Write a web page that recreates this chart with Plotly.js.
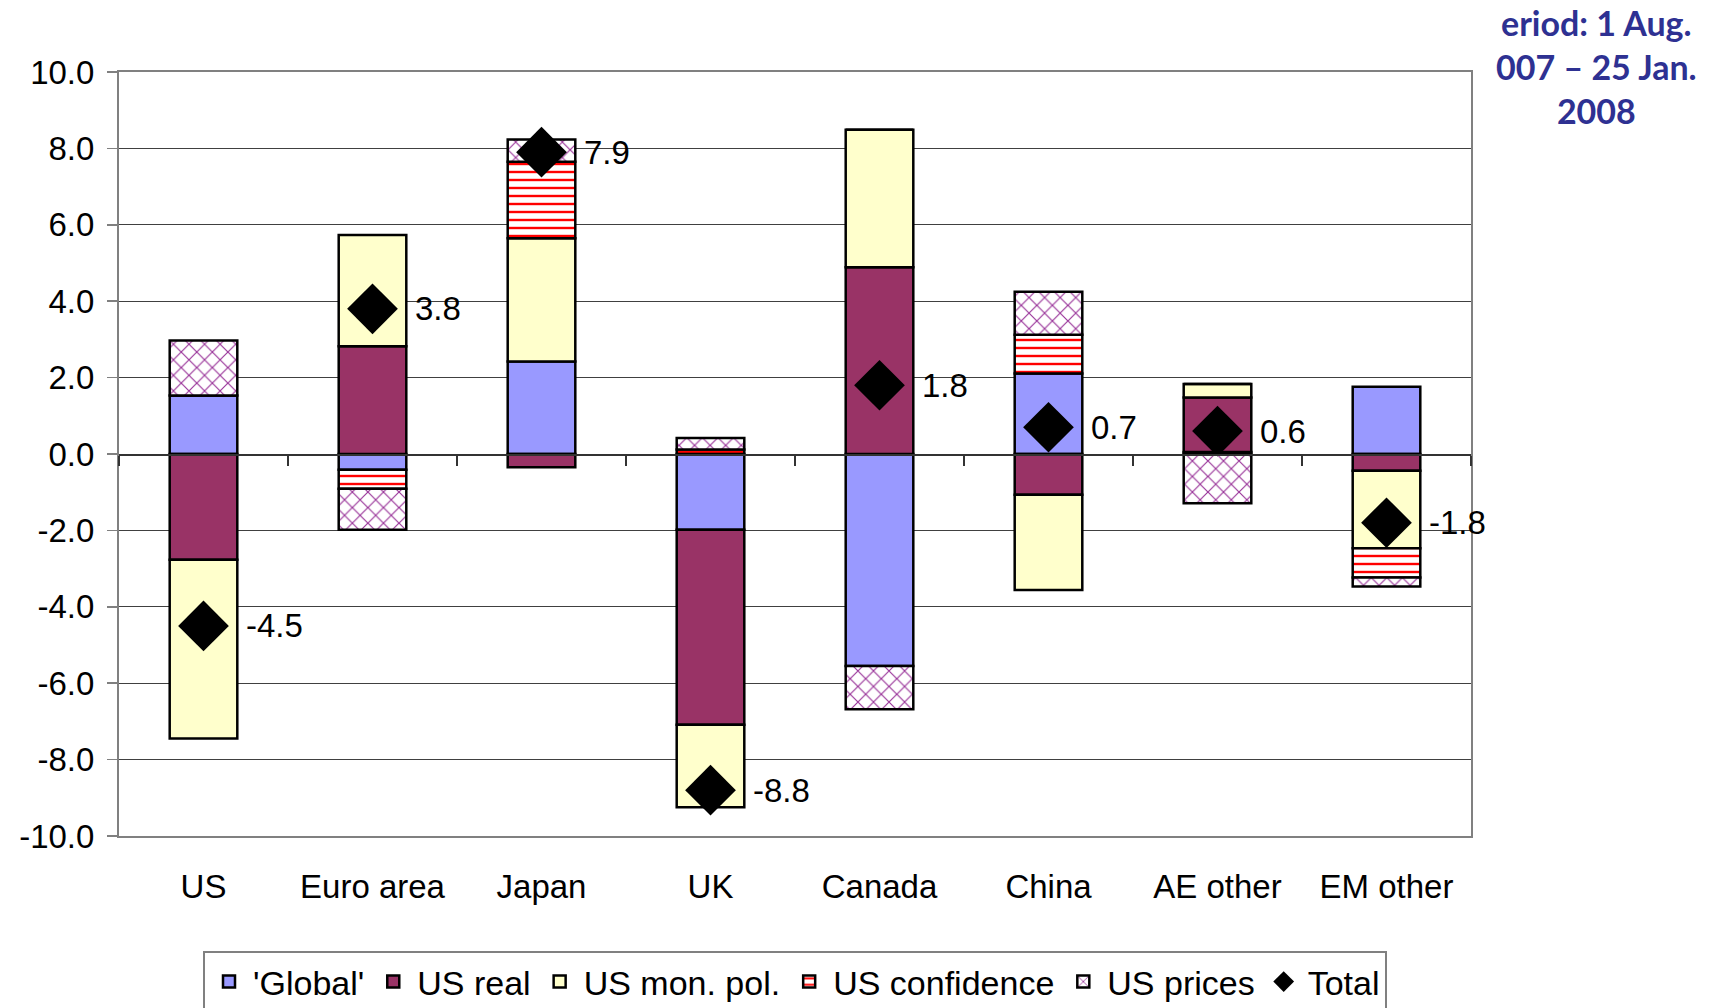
<!DOCTYPE html>
<html>
<head>
<meta charset="utf-8">
<script src="https://cdn.plot.ly/plotly-3.0.1.min.js"></script>
<style>html,body{margin:0;padding:0;background:#fff;}#chart{width:1724px;height:1008px;}</style>
</head>
<body>
<div id="chart"></div>
<script>
const categories = ['US', 'Euro area', 'Japan', 'UK', 'Canada', 'China', 'AE other', 'EM other'];
const globalShock = [1.53, -0.41, 2.42, -1.98, -5.55, 2.11, 0.05, 1.76];
const usReal = [-2.77, 2.82, -0.35, -5.11, 4.89, -1.07, 1.43, -0.44];
const usMonPol = [-4.68, 2.91, 3.23, -2.16, 3.60, -2.49, 0.35, -2.03];
const usConfidence = [0, -0.50, 2.00, 0.12, 0, 1.01, 0, -0.76];
const usPrices = [1.44, -1.07, 0.58, 0.30, -1.13, 1.13, -1.29, -0.24];
const total = [-4.5, 3.8, 7.9, -8.8, 1.8, 0.7, 0.6, -1.8];
const yTickVals = [-10, -8, -6, -4, -2, 0, 2, 4, 6, 8, 10];
const yTickText = yTickVals.map(v => v.toFixed(1));
const seriesNames = ["'Global'", 'US real', 'US mon. pol.', 'US confidence', 'US prices', 'Total'];

const FONT = 'Liberation Sans, Arial, sans-serif';
const outline = {color: '#000', width: 2.5};

const traces = [
  {type: 'bar', name: seriesNames[0], x: categories, y: globalShock,
   marker: {color: '#9999FF', line: outline}},
  {type: 'bar', name: seriesNames[1], x: categories, y: usReal,
   marker: {color: '#993366', line: outline}},
  {type: 'bar', name: seriesNames[2], x: categories, y: usMonPol,
   marker: {color: '#FFFFCC', line: outline}},
  {type: 'bar', name: seriesNames[3], x: categories, y: usConfidence,
   marker: {color: '#FFFFFF', line: outline,
            pattern: {shape: '-', fgcolor: '#FF0000', bgcolor: '#FFFFFF', fgopacity: 1, size: 8, solidity: 0.3, fillmode: 'overlay'}}},
  {type: 'bar', name: seriesNames[4], x: categories, y: usPrices,
   marker: {color: '#FFFFFF', line: outline,
            pattern: {shape: 'x', fgcolor: '#993399', bgcolor: '#FFFFFF', fgopacity: 1, size: 11, solidity: 0.2, fillmode: 'overlay'}}},
  {type: 'scatter', mode: 'markers', name: seriesNames[5], x: categories, y: total,
   marker: {symbol: 'diamond', size: 39, color: '#000'}, cliponaxis: false},
  {type: 'scatter', mode: 'none', x: [], y: [], xaxis: 'x2', showlegend: false, hoverinfo: 'skip'}
];

const labelAnnotations = categories.map((c, i) => ({
  x: c, y: total[i], xref: 'x', yref: 'y', text: total[i].toFixed(1),
  showarrow: false, xanchor: 'left', yanchor: 'middle', xshift: 40,
  font: {family: FONT, size: 33, color: '#000'}
}));

const layout = {
  width: 1724, height: 1008,
  paper_bgcolor: '#fff', plot_bgcolor: '#fff',
  margin: {l: 119, r: 253, t: 72, b: 172, autoexpand: false},
  barmode: 'relative', bargap: 0.6,
  font: {family: FONT, size: 33, color: '#000'},
  showlegend: true,
  xaxis: {
    type: 'category', range: [-0.5, categories.length - 0.5],
    showline: true, linecolor: '#808080', linewidth: 2, mirror: true,
    ticks: '', showgrid: false, zeroline: false,
    tickfont: {family: FONT, size: 33, color: '#000'},
    ticklabelstandoff: 20
  },
  xaxis2: {
    overlaying: 'x', anchor: 'free', position: 0.5, side: 'bottom',
    range: [-0.5, categories.length - 0.5],
    tickvals: categories.map((c, i) => i + 0.5).concat([-0.5]),
    ticks: 'outside', ticklen: 10, tickwidth: 1.5, tickcolor: '#333',
    showline: true, linecolor: '#333', linewidth: 1.5,
    showticklabels: false, showgrid: false, zeroline: false
  },
  yaxis: {
    range: [-10, 10], tickvals: yTickVals, ticktext: yTickText,
    ticks: 'outside', ticklen: 10, tickwidth: 1.5, tickcolor: '#808080',
    showline: true, linecolor: '#808080', linewidth: 2, mirror: true,
    showgrid: true, gridcolor: '#404040', gridwidth: 1, zeroline: false,
    tickfont: {family: FONT, size: 33, color: '#000'},
    ticklabelstandoff: 6
  },
  legend: {
    orientation: 'h', x: 0.5, xanchor: 'center', y: -0.1505, yanchor: 'top',
    bordercolor: '#808080', borderwidth: 2, bgcolor: '#fff',
    font: {family: FONT, size: 34, color: '#000'},
    itemwidth: 38, traceorder: 'normal'
  },
  annotations: labelAnnotations.concat([{
    xref: 'paper', yref: 'paper', x: 1.093, y: 1.094, xanchor: 'center', yanchor: 'top',
    align: 'center', showarrow: false,
    text: '<b>eriod: 1 Aug.<br>007 – 25 Jan.<br>2008</b>',
    font: {family: 'Lato, Open Sans, sans-serif', size: 34, color: '#2E3192'}
  }])
};

Plotly.newPlot('chart', traces, layout, {staticPlot: true, displayModeBar: false});
</script>
</body>
</html>
